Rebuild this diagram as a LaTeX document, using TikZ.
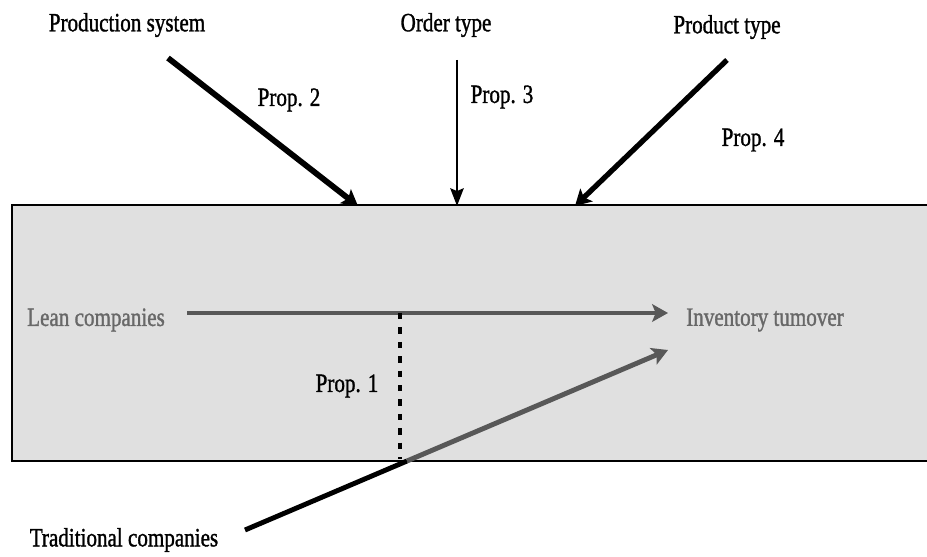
\documentclass[tikz,border=0pt]{standalone}
\usepackage{fontspec}
\setmainfont{Liberation Serif}
\newfontfamily\lblfont{Liberation Serif}[FakeBold=1.4]
\usetikzlibrary{calc}
\usetikzlibrary{arrows.meta}

\definecolor{boxgray}{HTML}{E0E0E0}
\definecolor{arrgray}{HTML}{585858}
\definecolor{txtgray}{HTML}{686868}

\tikzset{
 lbl/.style={font=\lblfont\fontsize{15}{18}\selectfont, xscale=.8, inner sep=0},
 fat/.style={line width=3pt, -{Stealth[length=9pt, width=10pt, inset=2pt]}},
}

\begin{document}
\begin{tikzpicture}[x=.02cm, y=-.02cm]
\useasboundingbox (0,0) rectangle (927,557);
% the box
\fill[boxgray] (12,205) rectangle (927,461);
\draw[line width=1.6pt] (940,205) -- (12,205) -- (12,461) -- (940,461);

% labels
\node[lbl] (prod) at (127,25) {Production system};
\node[lbl] (order) at (446,25) {Order type};
\node[lbl] (ptype) at (727,27) {Product type};
\node[lbl] (p2) at (289,100) {Prop. 2};
\node[lbl] (p3) at (502,97) {Prop. 3};
\node[lbl] (p4) at (753,140) {Prop. 4};
\node[lbl, txtgray] (lean) at (96,320) {Lean companies};
\node[lbl, txtgray] (inv) at (765,320) {Inventory tumover};
\node[lbl] (p1) at (347,386) {Prop. 1};
\node[lbl] (trad) at (124,540) {Traditional companies};

\coordinate (ps) at (168,58);
\coordinate (pe) at (358,206);
\coordinate (os) at (457,60);
\coordinate (oe) at (457,206);
\coordinate (ts) at (727,60);
\coordinate (te) at (575,206);
\coordinate (ls) at (187,313);
\coordinate (le) at (668,313);
\coordinate (cs) at (245,530);
\coordinate (cx) at (407,461);
\coordinate (ce) at (668,350);
\coordinate (ds) at (400,313);
\coordinate (de) at (400,459);

% moderators from above
\draw[fat, line width=3.3pt] (ps) -- (pe);
\draw[line width=1.7pt, -{Stealth[length=10pt, width=7.5pt, inset=1.5pt]}] (os) -- (oe);
\draw[fat] (ts) -- (te);

% main relations
\draw[fat, arrgray, line width=2.8pt] (ls) -- (le);
\draw[line width=2.8pt] (cs) -- (cx);
\draw[fat, arrgray, line width=2.8pt] (cx) -- (ce);
\draw[line width=2pt, dash pattern=on 3.6pt off 4.6pt] (ds) -- (de);
\end{tikzpicture}
\end{document}
